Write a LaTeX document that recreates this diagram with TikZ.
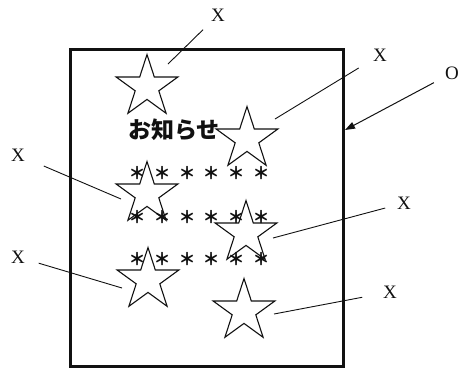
\documentclass[tikz,border=0pt]{standalone}
\usepackage{fontspec}
\usepackage{tikz}
\usetikzlibrary{shapes.geometric, arrows.meta, positioning, calc}
\setmainfont{Liberation Serif}
\newfontfamily\jpfont{Noto Sans CJK JP}
\definecolor{ink}{HTML}{111111}
\tikzset{
  board/.style={
    rectangle, draw=ink, line width=3pt,
    minimum width=273pt, minimum height=317pt, inner sep=0pt,
  },
  markstar/.style={
    star, star points=5, star point ratio=2.618,
    minimum size=65pt, inner sep=0pt,
    draw=ink, line width=1.1pt,
  },
  tag/.style={font=\fontsize{19}{19}\selectfont, text=ink, inner sep=4pt},
  dot/.style={font=\jpfont\bfseries\fontsize{17}{17}\selectfont, text=ink, inner sep=0pt},
  title/.style={font=\jpfont\bfseries\fontsize{23}{23}\selectfont, text=ink},
  leader/.style={draw=ink, line width=0.9pt},
  pointer/.style={-{Triangle[length=10pt,width=7pt]}, draw=ink, line width=1pt},
}
\begin{document}
\begin{tikzpicture}[x=1pt, y=-1pt]
  \useasboundingbox (0,0) rectangle (463,368);

  % notice board
  \node[board] (sheet) at (206.5,207.5) {};
  \node[title] (notice) at (174,130) {お知らせ};
  \foreach \r/\y in {1/173, 2/217, 3/259}
    \foreach \c/\x in {1/137, 2/162, 3/187, 4/211, 5/236, 6/261}
      \node[dot] (a\r\c) at (\x,\y) {＊};

  % stars
  \node[markstar] (s1) at (147,87) {};
  \node[markstar] (s2) at (247,139) {};
  \node[markstar] (s3) at (147,194) {};
  \node[markstar] (s4) at (246,233) {};
  \node[markstar] (s5) at (148,280) {};
  \node[markstar] (s6) at (244,311) {};

  % labels
  \node[tag] (x1) at (218,15) {X};
  \node[tag] (x2) at (380,55) {X};
  \node[tag] (x3) at (18,155) {X};
  \node[tag] (x4) at (404,203) {X};
  \node[tag] (x5) at (18,257) {X};
  \node[tag] (x6) at (390,292) {X};
  \node[tag] (o) at (452,73) {O};

  \coordinate (e1) at (168,64);
  \coordinate (e2) at (275,119);
  \coordinate (e3) at (121,199);
  \coordinate (e4) at (273,238);
  \coordinate (e5) at (122,288);
  \coordinate (e6) at (274,314);
  \coordinate (eo) at (345,130);

  \draw[leader, shorten <=6pt] (x1) -- (e1);
  \draw[leader, shorten <=12pt] (x2) -- (e2);
  \draw[leader, shorten <=16pt] (x3) -- (e3);
  \draw[leader, shorten <=8pt] (x4) -- (e4);
  \draw[leader, shorten <=10pt] (x5) -- (e5);
  \draw[leader, shorten <=17pt] (x6) -- (e6);
  \draw[pointer, shorten <=8pt] (o) -- (eo);

\end{tikzpicture}
\end{document}
